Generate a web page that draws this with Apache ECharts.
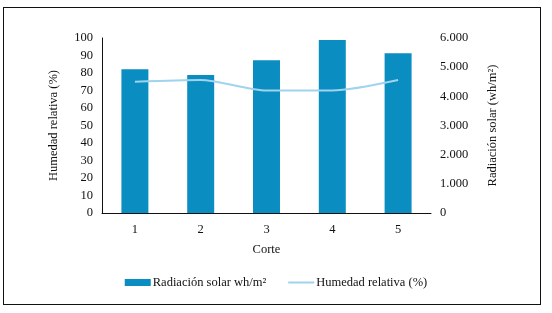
<!DOCTYPE html>
<html>
<head>
<meta charset="utf-8">
<script src="https://cdn.jsdelivr.net/npm/echarts@6/dist/echarts.min.js"></script>
<style>
  html, body { margin: 0; padding: 0; background: #fff; }
  .frame {
    position: absolute; left: 3px; top: 7px; width: 538px; height: 298px;
    border: 1.5px solid #111; box-sizing: border-box;
  }
  #chart { position: absolute; left: 0; top: 0; width: 552px; height: 313px; }
</style>
</head>
<body>
<div class="frame"></div>
<div id="chart"></div>
<script>
// datos
const cortes = ['1', '2', '3', '4', '5']
const radiacion = [4930, 4730, 5240, 5930, 5480]
const humedad = [75, 76, 70, 70, 76]
const humTicks = [0, 100, 10]
const radTicks = [0, 6000, 1000]

const serif = 'Liberation Serif'

let myChart = echarts.init(document.getElementById('chart'))
myChart.setOption({
  backgroundColor: 'transparent',
  textStyle: { fontFamily: serif, color: '#111' },
  grid: { left: 102, right: 121, top: 38, bottom: 100 },
  legend: {
    bottom: 19,
    left: 'center',
    itemGap: 22,
    itemWidth: 26,
    itemHeight: 7,
    textStyle: { fontFamily: serif, fontSize: 12.5, color: '#111', padding: [0, 0, 0, -3] },
    data: [
      { name: 'Radiación solar wh/m²', icon: 'rect' },
      { name: 'Humedad relativa (%)', icon: 'path://M0,0L26,0L26,2L0,2Z', itemStyle: { color: '#9FD3EE' } }
    ]
  },
  xAxis: {
    type: 'category',
    data: cortes,
    name: 'Corte',
    nameLocation: 'middle',
    nameGap: 30,
    nameTextStyle: { fontFamily: serif, fontSize: 12.5, color: '#111' },
    axisTick: { show: false },
    axisLine: { lineStyle: { color: '#111', width: 1 } },
    axisLabel: { fontFamily: serif, fontSize: 12.5, color: '#111', margin: 10 }
  },
  yAxis: [
    {
      type: 'value',
      min: humTicks[0], max: humTicks[1], interval: humTicks[2],
      name: 'Humedad relativa (%)',
      nameLocation: 'middle',
      nameGap: 42,
      nameTextStyle: { fontFamily: serif, fontSize: 12.5, color: '#111' },
      axisLine: { show: true, lineStyle: { color: '#111', width: 1 } },
      axisTick: { show: false },
      splitLine: { show: false },
      axisLabel: { fontFamily: serif, fontSize: 12.5, color: '#111', margin: 9 }
    },
    {
      type: 'value',
      position: 'right',
      min: radTicks[0], max: radTicks[1], interval: radTicks[2],
      name: 'Radiación solar (wh/m²)',
      nameLocation: 'middle',
      nameRotate: 90,
      nameGap: 55,
      nameTextStyle: { fontFamily: serif, fontSize: 12.5, color: '#111' },
      axisLine: { show: false },
      axisTick: { show: false },
      splitLine: { show: false },
      axisLabel: {
        fontFamily: serif, fontSize: 12.5, color: '#111', margin: 9,
        formatter: v => String(v).replace(/\B(?=(\d{3})+(?!\d))/g, '.')
      }
    }
  ],
  series: [
    {
      name: 'Radiación solar wh/m²',
      type: 'bar',
      yAxisIndex: 1,
      barWidth: '41%',
      itemStyle: { color: '#0A8DC0' },
      data: radiacion
    },
    {
      name: 'Humedad relativa (%)',
      type: 'line',
      yAxisIndex: 0,
      symbol: 'none',
      smooth: 0.25,
      lineStyle: { color: '#9FD3EE', width: 2 },
      itemStyle: { color: '#9FD3EE' },
      data: humedad
    }
  ]
})
</script>
</body>
</html>
